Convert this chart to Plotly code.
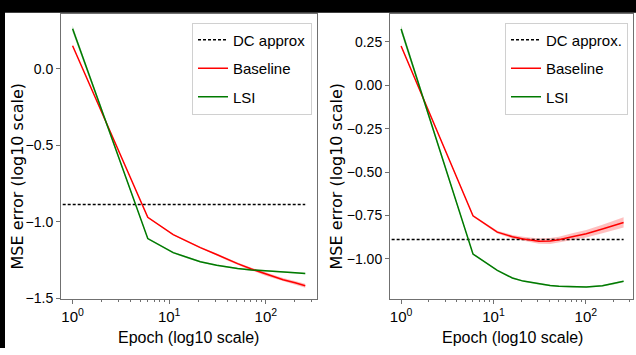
import plotly.graph_objects as go
import numpy as np

# ---------------- data ----------------
epochs = [1, 6, 11, 16, 21, 31, 41, 51, 71, 101, 151, 201, 256]
dc_x = [0.79, 256]
dc_value = -0.889

# left panel
left_baseline = [0.15, -0.972, -1.085, -1.135, -1.17, -1.215, -1.25, -1.275, -1.31, -1.345, -1.38, -1.40, -1.42]
left_baseline_hw = [0.004, 0.004, 0.004, 0.005, 0.005, 0.006, 0.007, 0.008, 0.009, 0.010, 0.011, 0.012, 0.013]
left_lsi = [0.26, -1.111, -1.203, -1.24, -1.262, -1.285, -1.298, -1.307, -1.316, -1.324, -1.331, -1.335, -1.34]
left_lsi_hw = [0.02, 0.006, 0.005, 0.005, 0.005, 0.005, 0.005, 0.005, 0.005, 0.005, 0.005, 0.005, 0.005]

# right panel
right_baseline = [0.226, -0.752, -0.846, -0.872, -0.885, -0.898, -0.897, -0.89, -0.872, -0.855, -0.828, -0.808, -0.79]
right_baseline_hw = [0.005, 0.005, 0.008, 0.010, 0.012, 0.015, 0.017, 0.018, 0.020, 0.022, 0.025, 0.028, 0.030]
right_lsi = [0.324, -0.972, -1.066, -1.11, -1.128, -1.145, -1.153, -1.158, -1.162, -1.162, -1.155, -1.143, -1.129]
right_lsi_hw = [0.02, 0.005, 0.004, 0.004, 0.004, 0.004, 0.004, 0.004, 0.004, 0.004, 0.004, 0.004, 0.004]

x_tick_vals = [1, 10, 100]
x_tick_labels = ["10<sup>0</sup>", "10<sup>1</sup>", "10<sup>2</sup>"]
x_minor_vals = [2, 3, 4, 5, 6, 7, 8, 9, 20, 30, 40, 50, 60, 70, 80, 90, 200, 300]
left_y_ticks = [-1.5, -1.0, -0.5, 0.0]
right_y_ticks = [-1.0, -0.75, -0.5, -0.25, 0.0, 0.25]

legend_dc = ["DC approx", "DC approx."]
legend_base = "Baseline"
legend_lsi = "LSI"
x_title = "Epoch (log10 scale)"
y_title = "MSE error (log10 scale)"

RED = "#ff0000"
GREEN = "#007a00"
SPINE = "#707070"
FONT = "Liberation Sans, Arial, sans-serif"

W, H = 636, 355
fig = go.Figure()


def band(x, y, hw, color, xa, ya):
    y = np.array(y); hw = np.array(hw)
    up = y + hw; lo = y - hw
    fig.add_trace(go.Scatter(x=list(x) + list(x)[::-1], y=list(up) + list(lo)[::-1],
                             fill="toself", fillcolor=color, line=dict(width=0),
                             mode="lines", showlegend=False, hoverinfo="skip",
                             xaxis=xa, yaxis=ya))


panels = [
    ("x", "y", "legend", left_baseline, left_baseline_hw, left_lsi, left_lsi_hw, legend_dc[0]),
    ("x2", "y2", "legend2", right_baseline, right_baseline_hw, right_lsi, right_lsi_hw, legend_dc[1]),
]
for xa, ya, lg, base, base_hw, lsi, lsi_hw, dcname in panels:
    band(epochs, base, base_hw, "rgba(255,0,0,0.25)", xa, ya)
    band(epochs, lsi, lsi_hw, "rgba(0,122,0,0.25)", xa, ya)
    fig.add_trace(go.Scatter(x=dc_x, y=[dc_value, dc_value], mode="lines",
                             line=dict(color="black", width=1.5, dash="3px,2px"),
                             name=dcname, legend=lg, legendgroup="a" + xa, xaxis=xa, yaxis=ya))
    fig.add_trace(go.Scatter(x=epochs, y=base, mode="lines", line=dict(color=RED, width=1.5),
                             name=legend_base, legend=lg, legendgroup="b" + xa, xaxis=xa, yaxis=ya))
    fig.add_trace(go.Scatter(x=epochs, y=lsi, mode="lines", line=dict(color=GREEN, width=1.5),
                             name=legend_lsi, legend=lg, legendgroup="c" + xa, xaxis=xa, yaxis=ya))

ydom = [1 - 305 / H, 1 - 14 / H]
common_x = dict(type="log", showgrid=False, zeroline=False, showline=True, mirror=True,
                linecolor=SPINE, linewidth=1, ticks="outside", ticklen=4, tickcolor=SPINE,
                tickvals=x_tick_vals, ticktext=x_tick_labels,
                tickfont=dict(family=FONT, size=15, color="black"),
                minor=dict(tickvals=x_minor_vals, ticks="outside", ticklen=2, tickcolor=SPINE))
common_y = dict(showgrid=False, zeroline=False, showline=True, mirror=True,
                linecolor=SPINE, linewidth=1, ticks="outside", ticklen=4, tickcolor=SPINE,
                tickfont=dict(family=FONT, size=14, color="black"))

legend_common = dict(bgcolor="white", bordercolor="#d0d0d0", borderwidth=1,
                     font=dict(family=FONT, size=15, color="black"),
                     xanchor="right", yanchor="top", traceorder="grouped", tracegroupgap=6)

fig.update_layout(
    width=W, height=H, margin=dict(l=0, r=0, t=0, b=0),
    paper_bgcolor="white", plot_bgcolor="white",
    xaxis=dict(domain=[61 / W, 317 / W], range=[-0.12, 2.53], anchor="y", **common_x),
    yaxis=dict(domain=ydom, range=[-1.506, 0.359], anchor="x", tickvals=left_y_ticks,
               tickformat=".1f", **common_y),
    xaxis2=dict(domain=[390 / W, 633 / W], range=[-0.12, 2.51], anchor="y2", **common_x),
    yaxis2=dict(domain=ydom, range=[-1.231, 0.412], anchor="x2", tickvals=right_y_ticks,
                tickformat=".2f", **common_y),
    legend=dict(x=312 / W, y=1 - 23 / H, **legend_common),
    legend2=dict(x=628 / W, y=1 - 23 / H, **legend_common),
    showlegend=True,
)

# axis titles
for cx in [188, 512]:
    fig.add_annotation(x=cx / W, y=1 - 344 / H, xref="paper", yref="paper", text=x_title,
                       showarrow=False, font=dict(family=FONT, size=16, color="black"),
                       xanchor="center", yanchor="middle")
for cx in [17, 336]:
    fig.add_annotation(x=cx / W, y=1 - 180 / H, xref="paper", yref="paper", text=y_title,
                       textangle=-90, showarrow=False,
                       font=dict(family="DejaVu Sans", size=16, color="black"),
                       xanchor="center", yanchor="middle")

# black frame edges of the reference image
fig.add_shape(type="rect", xref="paper", yref="paper", x0=0, x1=1, y0=1 - 13 / H, y1=1,
              fillcolor="black", line=dict(width=0), layer="below")
fig.add_shape(type="rect", xref="paper", yref="paper", x0=0, x1=5 / W, y0=0, y1=1,
              fillcolor="black", line=dict(width=0), layer="below")

fig.write_html("out.html", config={"displayModeBar": False},
               post_script="document.body.style.margin='0';document.body.style.overflow='hidden';")
